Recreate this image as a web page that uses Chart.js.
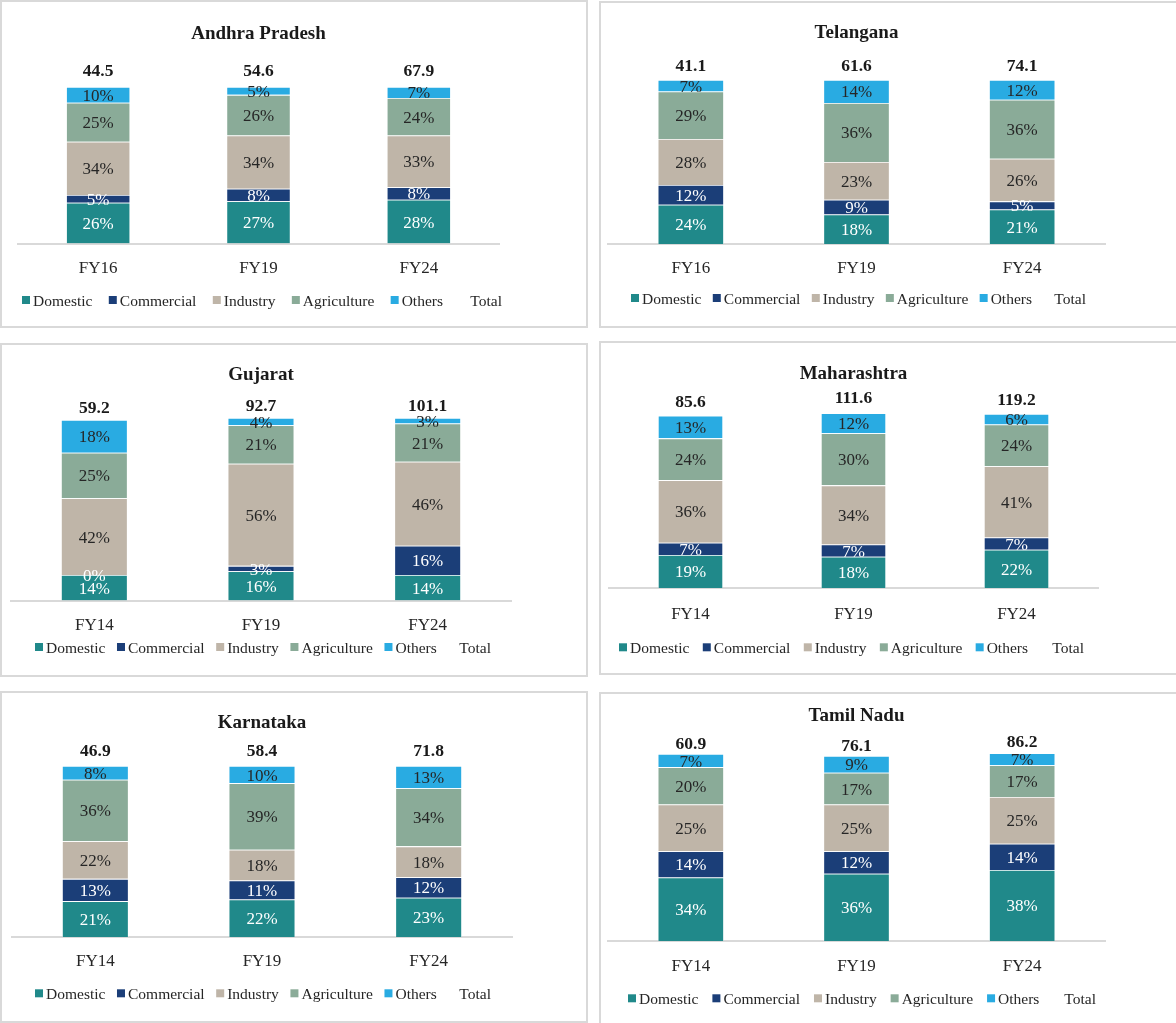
<!DOCTYPE html>
<html>
<head>
<meta charset="utf-8">
<title>Electricity consumption mix by state</title>
<script src="https://cdn.jsdelivr.net/npm/chart.js@4/dist/chart.umd.min.js"></script>
<style>
  html, body { margin: 0; padding: 0; background: #ffffff; width: 1176px; height: 1023px; overflow: hidden; }
  .panel { position: absolute; box-sizing: border-box; border: 2px solid #d9d9d9; background: #ffffff; overflow: hidden; }
  .panel canvas { display: block; }
</style>
</head>
<body>
<script>
// ---- Data: consumption shares (%) by category, and total consumption ----
const seriesNames = ['Domestic', 'Commercial', 'Industry', 'Agriculture', 'Others'];

const andhraYears       = ['FY16', 'FY19', 'FY24'];
const andhraDomestic    = [26, 27, 28];
const andhraCommercial  = [5, 8, 8];
const andhraIndustry    = [34, 34, 33];
const andhraAgriculture = [25, 26, 24];
const andhraOthers      = [10, 5, 7];
const andhraTotal       = [44.5, 54.6, 67.9];

const telanganaYears       = ['FY16', 'FY19', 'FY24'];
const telanganaDomestic    = [24, 18, 21];
const telanganaCommercial  = [12, 9, 5];
const telanganaIndustry    = [28, 23, 26];
const telanganaAgriculture = [29, 36, 36];
const telanganaOthers      = [7, 14, 12];
const telanganaTotal       = [41.1, 61.6, 74.1];

const gujaratYears       = ['FY14', 'FY19', 'FY24'];
const gujaratDomestic    = [14, 16, 14];
const gujaratCommercial  = [0, 3, 16];
const gujaratIndustry    = [42, 56, 46];
const gujaratAgriculture = [25, 21, 21];
const gujaratOthers      = [18, 4, 3];
const gujaratTotal       = [59.2, 92.7, 101.1];

const maharashtraYears       = ['FY14', 'FY19', 'FY24'];
const maharashtraDomestic    = [19, 18, 22];
const maharashtraCommercial  = [7, 7, 7];
const maharashtraIndustry    = [36, 34, 41];
const maharashtraAgriculture = [24, 30, 24];
const maharashtraOthers      = [13, 12, 6];
const maharashtraTotal       = [85.6, 111.6, 119.2];

const karnatakaYears       = ['FY14', 'FY19', 'FY24'];
const karnatakaDomestic    = [21, 22, 23];
const karnatakaCommercial  = [13, 11, 12];
const karnatakaIndustry    = [22, 18, 18];
const karnatakaAgriculture = [36, 39, 34];
const karnatakaOthers      = [8, 10, 13];
const karnatakaTotal       = [46.9, 58.4, 71.8];

const tamilNaduYears       = ['FY14', 'FY19', 'FY24'];
const tamilNaduDomestic    = [34, 36, 38];
const tamilNaduCommercial  = [14, 12, 14];
const tamilNaduIndustry    = [25, 25, 25];
const tamilNaduAgriculture = [20, 17, 17];
const tamilNaduOthers      = [7, 9, 7];
const tamilNaduTotal       = [60.9, 76.1, 86.2];

// ---- Styling ----
const seriesColors = ['#20898a', '#1b3e78', '#bfb5a8', '#8aab98', '#29abe2'];
const labelColors  = ['#ffffff', '#ffffff', '#262626', '#262626', '#262626'];
const FONT = '"Liberation Serif", "Times New Roman", serif';
const TITLE_SIZE = 19, TICK_SIZE = 17, LEGEND_SIZE = 15.5, SEG_SIZE = 17, TOTAL_SIZE = 17.5;
const SWATCH = 8, SWATCH_GAP = 3;
const NUDGE = 1.5;   // serif digits/caps sit slightly below the em-box middle

// Panel frames (page pixels): box, plot extent, text rows, legend span
const panels = [
  { title: 'Andhra Pradesh', years: andhraYears,
    values: [andhraDomestic, andhraCommercial, andhraIndustry, andhraAgriculture, andhraOthers], totals: andhraTotal,
    box: [0, 0, 588, 328], plotX: [18, 499], plotTop: 87, plotBottom: 243.5, titleY: 33, catY: 267,
    legendY: 300, legendX: [22, 502], totalGap: 17 },
  { title: 'Telangana', years: telanganaYears,
    values: [telanganaDomestic, telanganaCommercial, telanganaIndustry, telanganaAgriculture, telanganaOthers], totals: telanganaTotal,
    box: [599, 1, 590, 327], plotX: [608, 1105], plotTop: 80, plotBottom: 244, titleY: 32, catY: 267,
    legendY: 298, legendX: [631, 1086], totalGap: 15 },
  { title: 'Gujarat', years: gujaratYears,
    values: [gujaratDomestic, gujaratCommercial, gujaratIndustry, gujaratAgriculture, gujaratOthers], totals: gujaratTotal,
    box: [0, 343, 588, 334], plotX: [11, 511], plotTop: 418, plotBottom: 600.5, titleY: 374, catY: 624,
    legendY: 647, legendX: [35, 491], totalGap: 13 },
  { title: 'Maharashtra', years: maharashtraYears,
    values: [maharashtraDomestic, maharashtraCommercial, maharashtraIndustry, maharashtraAgriculture, maharashtraOthers], totals: maharashtraTotal,
    box: [599, 341, 590, 334], plotX: [609, 1098], plotTop: 414, plotBottom: 588, titleY: 372.5, catY: 612.7,
    legendY: 647.3, legendX: [619, 1084], totalGap: 15 },
  { title: 'Karnataka', years: karnatakaYears,
    values: [karnatakaDomestic, karnatakaCommercial, karnatakaIndustry, karnatakaAgriculture, karnatakaOthers], totals: karnatakaTotal,
    box: [0, 691, 588, 332], plotX: [12, 512], plotTop: 766, plotBottom: 937, titleY: 721.7, catY: 960,
    legendY: 993.3, legendX: [35, 491], totalGap: 16 },
  { title: 'Tamil Nadu', years: tamilNaduYears,
    values: [tamilNaduDomestic, tamilNaduCommercial, tamilNaduIndustry, tamilNaduAgriculture, tamilNaduOthers], totals: tamilNaduTotal,
    box: [599, 692, 590, 335], plotX: [608, 1105], plotTop: 754, plotBottom: 941, titleY: 714.5, catY: 965,
    legendY: 998.3, legendX: [628, 1096], totalGap: 11 }
];

// Writes the share inside each segment and the total above each column
const valueLabels = {
  id: 'valueLabels',
  afterDatasetsDraw(chart, args, opts) {
    const ctx = chart.ctx;
    ctx.save();
    ctx.textAlign = 'center';
    ctx.textBaseline = 'middle';
    ctx.font = SEG_SIZE + 'px ' + FONT;
    let topMeta = null;
    chart.data.datasets.forEach((ds, di) => {
      if (ds.type === 'line') return;
      const meta = chart.getDatasetMeta(di);
      topMeta = meta;
      ctx.fillStyle = ds.labelColor;
      meta.data.forEach((bar, i) => {
        const p = bar.getProps(['x', 'y', 'base'], true);
        ctx.fillText(ds.data[i] + '%', p.x, (p.y + p.base) / 2 + NUDGE);
      });
    });
    const totalSet = chart.data.datasets.find(d => d.type === 'line');
    if (totalSet && topMeta) {
      ctx.font = 'bold ' + TOTAL_SIZE + 'px ' + FONT;
      ctx.fillStyle = '#1a1a1a';
      topMeta.data.forEach((bar, i) => {
        const p = bar.getProps(['x', 'y'], true);
        ctx.fillText(totalSet.data[i].toFixed(1), p.x, p.y - opts.gap + NUDGE);
      });
    }
    ctx.restore();
  }
};

// Single-row legend: small square swatch, tight gap, items spread over a set span
const rowLegend = {
  id: 'rowLegend',
  afterDraw(chart, args, opts) {
    const ctx = chart.ctx;
    ctx.save();
    ctx.font = LEGEND_SIZE + 'px ' + FONT;
    ctx.textBaseline = 'middle';
    ctx.textAlign = 'left';
    const items = chart.data.datasets.map(ds => ({
      text: ds.label,
      color: ds.type === 'line' ? null : ds.backgroundColor,
      w: SWATCH + SWATCH_GAP + ctx.measureText(ds.label).width
    }));
    const used = items.reduce((s, it) => s + it.w, 0);
    const gap = (opts.right - opts.left - used) / (items.length - 1);
    let x = opts.left;
    items.forEach(it => {
      if (it.color) {
        ctx.fillStyle = it.color;
        ctx.fillRect(x, opts.y - SWATCH / 2, SWATCH, SWATCH);
      }
      ctx.fillStyle = '#262626';
      ctx.fillText(it.text, x + SWATCH + SWATCH_GAP, opts.y + NUDGE);
      x += it.w + gap;
    });
    ctx.restore();
  }
};

panels.forEach((pn) => {
  const [bx, by, bw, bh] = pn.box;
  const ox = bx + 2, oy = by + 2;
  const W = bw - 4, H = bh - 4;

  const div = document.createElement('div');
  div.className = 'panel';
  div.style.left = bx + 'px';
  div.style.top = by + 'px';
  div.style.width = bw + 'px';
  div.style.height = bh + 'px';
  const canvas = document.createElement('canvas');
  canvas.width = W;
  canvas.height = H;
  div.appendChild(canvas);
  document.body.appendChild(div);

  // Vertical bands in canvas pixels
  const plotTop = pn.plotTop - oy, plotBottom = pn.plotBottom - oy;
  const titleY = pn.titleY - oy + NUDGE, catY = pn.catY - oy + NUDGE;
  const titleLH = TITLE_SIZE * 1.2, tickLH = TICK_SIZE * 1.2;
  const catOff = catY - plotBottom;          // category label centre below the axis
  const axisH = 2 * catOff;                  // axis block: padding + line + padding

  const datasets = seriesNames.map((name, k) => ({
    type: 'bar',
    label: name,
    data: pn.values[k],
    backgroundColor: seriesColors[k],
    borderColor: 'rgba(255,255,255,0.45)',
    borderWidth: 0.8,
    labelColor: labelColors[k],
    stack: 'mix',
    categoryPercentage: 0.8,
    barPercentage: 0.5
  }));
  datasets.push({
    type: 'line',
    label: 'Total',
    data: pn.totals,
    yAxisID: 'yTotal',
    showLine: false,
    pointRadius: 0,
    backgroundColor: 'rgba(0,0,0,0)',
    borderColor: 'rgba(0,0,0,0)',
    borderWidth: 0
  });

  new Chart(canvas, {
    data: { labels: pn.years, datasets },
    plugins: [valueLabels, rowLegend],
    options: {
      responsive: false,
      devicePixelRatio: 1,
      animation: false,
      events: [],
      layout: {
        padding: { left: pn.plotX[0] - ox, right: W - (pn.plotX[1] - ox), top: 0, bottom: H - (plotBottom + axisH) }
      },
      scales: {
        x: {
          stacked: true,
          offset: true,
          grid: { display: false, drawTicks: false },
          border: { display: true, color: '#d9d9d9', width: 2 },
          ticks: { color: '#262626', padding: catOff - tickLH / 2, maxRotation: 0,
                   font: { family: FONT, size: TICK_SIZE, lineHeight: 1.2 } }
        },
        y: { stacked: true, display: false, min: 0, max: 100 },
        yTotal: { display: false, min: 0, max: 200 }
      },
      plugins: {
        title: {
          display: true,
          text: pn.title,
          color: '#1a1a1a',
          font: { family: FONT, size: TITLE_SIZE, weight: 'bold', lineHeight: 1.2 },
          padding: { top: titleY - titleLH / 2, bottom: plotTop - titleY - titleLH / 2 }
        },
        legend: { display: false },
        tooltip: { enabled: false },
        valueLabels: { gap: pn.totalGap },
        rowLegend: { left: pn.legendX[0] - ox, right: pn.legendX[1] - ox, y: pn.legendY - oy }
      }
    }
  });
});
</script>
</body>
</html>
